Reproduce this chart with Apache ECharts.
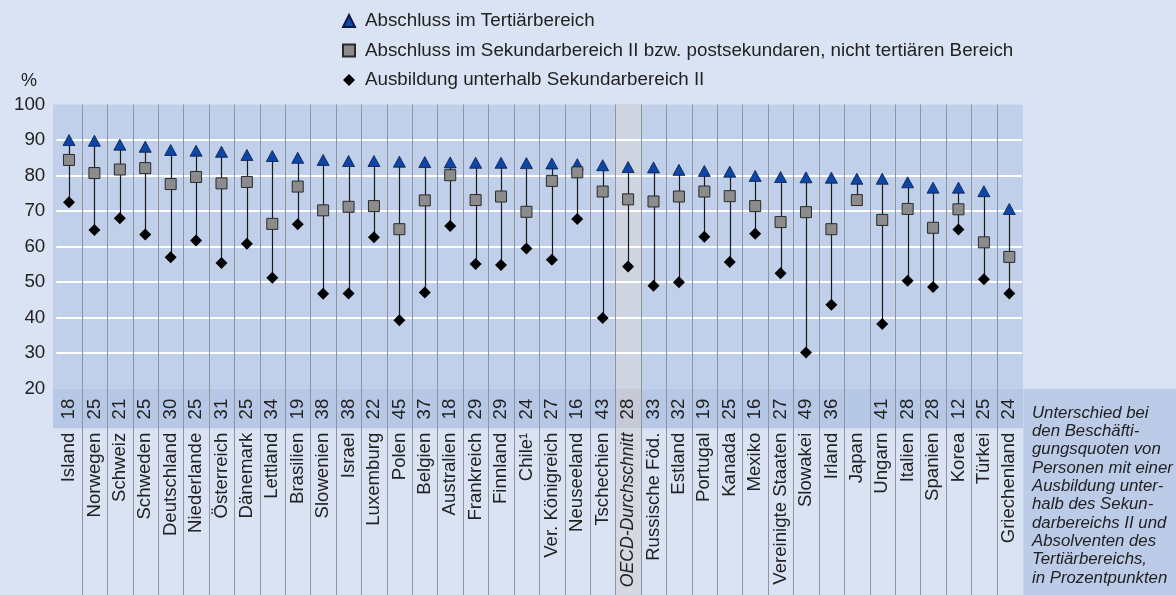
<!DOCTYPE html>
<html>
<head>
<meta charset="utf-8">
<script src="https://cdn.jsdelivr.net/npm/echarts/dist/echarts.min.js"></script>
<style>
html,body{margin:0;padding:0;background:#dae3f3;}
#c{width:1176px;height:595px;}
</style>
</head>
<body>
<div id="c"></div>
<script>
const categories = ['Island','Norwegen','Schweiz','Schweden','Deutschland','Niederlande','Österreich','Dänemark','Lettland','Brasilien','Slowenien','Israel','Luxemburg','Polen','Belgien','Australien','Frankreich','Finnland','Chile¹','Ver. Königreich','Neuseeland','Tschechien','OECD-Durchschnitt','Russische Föd.','Estland','Portugal','Kanada','Mexiko','Vereinigte Staaten','Slowakei','Irland','Japan','Ungarn','Italien','Spanien','Korea','Türkei','Griechenland'];
const tertiary  = [90.0,89.8,88.7,88.1,87.2,87.0,86.7,85.8,85.5,85.0,84.4,84.1,84.1,83.9,83.8,83.7,83.6,83.6,83.5,83.4,83.2,82.9,82.4,82.3,81.6,81.3,81.1,79.9,79.6,79.5,79.4,79.1,79.1,78.1,76.6,76.6,75.6,70.6];
const secondary = [84.4,80.7,81.7,82.1,77.6,79.6,77.8,78.2,66.4,76.9,70.2,71.2,71.4,64.9,73.0,80.1,73.1,74.1,69.8,78.5,80.9,75.5,73.3,72.7,74.1,75.5,74.2,71.4,66.9,69.7,64.9,73.1,67.5,70.6,65.3,70.5,61.2,57.1];
const belowSec  = [72.5,64.7,68.0,63.4,57.0,61.7,55.4,60.8,51.2,66.3,46.7,46.8,62.6,39.3,47.1,65.8,55.1,54.8,59.5,56.3,67.8,39.9,54.4,49.0,50.0,62.8,55.7,63.6,52.5,30.2,43.6,null,38.2,50.4,48.6,64.8,50.8,46.8];
const diffs     = [18,25,21,25,30,25,31,25,34,19,38,38,22,45,37,18,29,29,24,27,16,43,28,33,32,19,25,16,27,49,36,null,41,28,28,12,25,24];
const seriesNames = ['Abschluss im Tertiärbereich','Abschluss im Sekundarbereich II bzw. postsekundaren, nicht tertiären Bereich','Ausbildung unterhalb Sekundarbereich II'];
const yTicks = [20,30,40,50,60,70,80,90,100];
const noteLines = ['Unterschied bei','den Beschäfti-','gungsquoten von','Personen mit einer','Ausbildung unter-','halb des Sekun-','darbereichs II und','Absolventen des','Tertiärbereichs,','in Prozentpunkten'];
const highlightCat = 'OECD-Durchschnitt';

const FONT = '"Liberation Sans", Arial, sans-serif';
const TXT = '#222222';

const rangeData = categories.map((c, i) => {
  const vals = [tertiary[i], secondary[i], belowSec[i]].filter(v => v != null);
  return [i, Math.min(...vals), Math.max(...vals)];
});
const sepData = categories.slice(0, -1).map((c, i) => [i, 50]);
const hiData = [[categories.indexOf(highlightCat), 50]];

const catData = categories.map(c => c === highlightCat ? {value: c, textStyle: {fontStyle: 'italic', fontSize: 17.6}} : c);

const chart = echarts.init(document.getElementById('c'), null, {renderer: 'canvas'});
const option = {
  backgroundColor: '#dae3f3',
  animation: false,
  textStyle: {fontFamily: FONT},
  grid: {left: 56.3, right: 154, top: 104.5, bottom: 206.3, show: false, containLabel: false, outerBoundsMode: 'none'},
  legend: {
    orient: 'vertical', left: 337, top: 6,
    itemWidth: 12, itemHeight: 12, itemGap: 9.5,
    data: seriesNames,
    textStyle: {fontFamily: FONT, fontSize: 18.8, color: TXT, lineHeight: 20, padding: [0,0,0,5]}
  },
  xAxis: [{
    type: 'category', data: catData, position: 'bottom', z: 8,
    axisLine: {show: false}, axisTick: {show: false}, splitLine: {show: false},
    axisLabel: {interval: 0, rotate: 90, margin: 44, fontSize: 18.6, color: TXT, fontFamily: FONT}
  }, {
    type: 'category', data: categories, position: 'bottom', z: 8,
    axisLine: {show: false}, axisTick: {show: false}, splitLine: {show: false},
    axisLabel: {interval: 0, rotate: 90, margin: 10, fontSize: 18.6, color: TXT, fontFamily: FONT,
      formatter: (v, idx) => diffs[idx] == null ? '' : String(diffs[idx])}
  }],
  yAxis: {
    type: 'value', min: yTicks[0], max: yTicks[yTicks.length-1], interval: 10, z: 3,
    axisLine: {show: false}, axisTick: {show: false},
    axisLabel: {fontSize: 18.8, color: TXT, margin: 11, fontFamily: FONT},
    splitLine: {show: true, showMinLine: false, showMaxLine: false, lineStyle: {color: '#ffffff', width: 2}}
  },
  graphic: [
    {type: 'rect', z: -10, silent: true, shape: {x: 53, y: 104.5, width: 970, height: 284.2}, style: {fill: '#c1d0ea'}},
    {type: 'rect', z: -10, silent: true, shape: {x: 53, y: 388.7, width: 970, height: 39.5}, style: {fill: '#b7c8e6'}},
    {type: 'rect', z: -10, silent: true, shape: {x: 1023.5, y: 388.7, width: 152.5, height: 206.3}, style: {fill: '#bccbe8'}},
    {type: 'text', z: 10, silent: true, style: {x: 29, y: 81, text: '%', font: '18px ' + FONT, fill: TXT, align: 'center', verticalAlign: 'middle'}},
    {type: 'text', z: 10, silent: true, style: {x: 1032, y: 404, text: noteLines.join('\n'), font: 'italic 16.8px ' + FONT, lineHeight: 18.3, fill: TXT, align: 'left', verticalAlign: 'top'}}
  ],
  series: [
    {
      type: 'custom', name: 'highlight', z: 1, clip: false, silent: true, data: hiData,
      encode: {x: 0, y: 1},
      renderItem: (params, api) => {
        const cs = params.coordSys;
        const w = api.size([1, 0])[0];
        const xc = api.coord([api.value(0), 50])[0];
        const x0 = Math.round(xc - w / 2) + 1, x1 = Math.round(xc + w / 2);
        const yb = cs.y + cs.height, yl = yb + 39.5, H = api.getHeight();
        return {type: 'group', children: [
          {type: 'rect', shape: {x: x0, y: cs.y, width: x1 - x0, height: cs.height}, style: {fill: '#ced4e0'}},
          {type: 'rect', shape: {x: x0, y: yb, width: x1 - x0, height: yl - yb}, style: {fill: '#c5cad6'}},
          {type: 'rect', shape: {x: x0, y: yl, width: x1 - x0, height: H - yl}, style: {fill: '#d4d8e0'}}
        ]};
      }
    },
    {
      type: 'custom', name: 'sep', z: 4, clip: false, silent: true, data: sepData,
      encode: {x: 0, y: 1},
      renderItem: (params, api) => {
        const cs = params.coordSys;
        const w = api.size([1, 0])[0];
        const x = Math.round(api.coord([api.value(0), 50])[0] + w / 2) + 0.5;
        return {type: 'line', shape: {x1: x, y1: cs.y, x2: x, y2: api.getHeight()}, style: {stroke: '#8f949d', lineWidth: 1}};
      }
    },
    {
      type: 'custom', name: 'range', z: 5, silent: true, data: rangeData,
      encode: {x: 0, y: [1, 2]},
      renderItem: (params, api) => {
        const p1 = api.coord([api.value(0), api.value(1)]);
        const p2 = api.coord([api.value(0), api.value(2)]);
        const x = Math.round(p1[0]) + 0.5;
        return {type: 'line', shape: {x1: x, y1: p1[1], x2: x, y2: p2[1]}, style: {stroke: '#1a1a1a', lineWidth: 1.2}};
      }
    },
    {
      type: 'scatter', name: seriesNames[0], z: 6, data: tertiary,
      symbol: 'triangle', symbolSize: [12, 11],
      itemStyle: {color: '#0b46a8', borderColor: '#0a1a40', borderWidth: 0.8, opacity: 1}
    },
    {
      type: 'scatter', name: seriesNames[1], z: 6, data: secondary,
      symbol: 'rect', symbolSize: [11, 11],
      itemStyle: {color: '#8c8c8c', borderColor: '#2a2a2a', borderWidth: 1, opacity: 1}
    },
    {
      type: 'scatter', name: seriesNames[2], z: 6, data: belowSec,
      symbol: 'diamond', symbolSize: [12, 12],
      itemStyle: {color: '#000000', opacity: 1}
    }
  ]
};
chart.setOption(option);
</script>
</body>
</html>
